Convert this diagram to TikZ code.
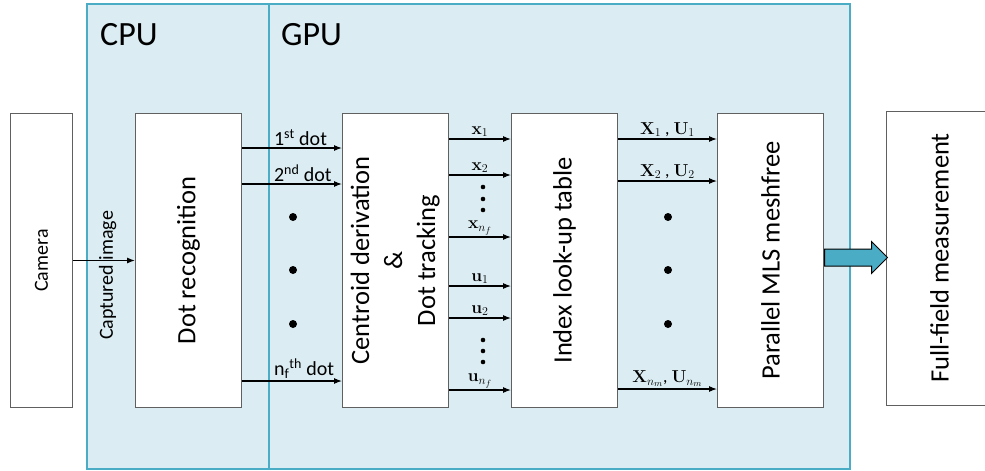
\documentclass[tikz,border=0pt]{standalone}
\usepackage[no-math]{fontspec}
\setmainfont{Carlito}
\usepackage{amsmath}
\usetikzlibrary{
    arrows.meta,
    positioning,
    shapes.arrows
}
\definecolor{gpuaqua}{RGB}{75,172,198}
\definecolor{gpulight}{RGB}{219,237,243}
\definecolor{stageline}{RGB}{96,96,96}

\begin{document}
\begin{tikzpicture}[
    x=1pt,
    y=-1pt,
    panel/.style={
        draw=gpuaqua,
        line width=2.7pt,
        fill=gpulight
    },
    stage/.style={
        draw=stageline,
        line width=1pt,
        fill=white,
        minimum width=106pt,
        minimum height=294pt,
        inner sep=0pt,
        font=\fontsize{26.5}{33}\selectfont
    },
    flowarrow/.style={
        -{Latex[length=8pt,width=6pt]},
        line width=1.1pt
    },
    dotlabel/.style={
        anchor=south west,
        inner sep=1.5pt,
        font=\fontsize{20}{20}\selectfont
    },
    veclabel/.style={
        above,
        inner sep=1.5pt,
        font=\fontsize{17.5}{17.5}\selectfont
    }
]
\useasboundingbox (0,0) rectangle (985,471);

% processor panels
\draw[panel] (269,4) rectangle (850,469);
\draw[panel] (87,4) rectangle (269,469);
\node[anchor=base west, inner sep=0pt, font=\fontsize{34}{34}\selectfont] (cputitle) at (100,45) {CPU};
\node[anchor=base west, inner sep=0pt, font=\fontsize{34}{34}\selectfont] (gputitle) at (281,45) {GPU};

\node[
    stage,
    minimum width=62pt,
    font=\fontsize{20}{24}\selectfont
] (camera) at (41.5,260.5) {\rotatebox{90}{Camera}};

\node[
    stage,
    right=62pt of camera
] (dotrec) {\rotatebox{90}{Dot recognition}};

\node[
    stage,
    right=100pt of dotrec
] (centroid) {\rotatebox{90}{\begin{tabular}{@{}c@{}}
    Centroid derivation\\
    \&\\
    Dot tracking
\end{tabular}}};

\node[
    stage,
    right=62pt of centroid
] (lookup) {\rotatebox{90}{Index look-up table}};

\node[
    stage,
    right=99pt of lookup
] (meshfree) {\rotatebox{90}{Parallel MLS meshfree}};

\node[
    stage,
    right=62pt of meshfree,
    yshift=2.5pt
] (fullfield) {\rotatebox{90}{Full-field measurement}};

\draw[flowarrow] (camera) -- (dotrec)
    node[pos=0.56, yshift=-15pt, rotate=90, font=\fontsize{20}{20}\selectfont] {Captured image};

% dot streams
\foreach \dy/\txt in {35/1\textsuperscript{st} dot, 71/2\textsuperscript{nd} dot, 268/n\textsubscript{f}\textsuperscript{th} dot}
    \draw[flowarrow] ([yshift=-\dy*1pt]dotrec.north east) -- ([yshift=-\dy*1pt]centroid.north west)
        node[dotlabel, pos=0.3] {\txt};

\foreach \dy/\txt in {26/{$\mathbf{x}_1$}, 62/{$\mathbf{x}_2$}, 124/{$\mathbf{x}_{n_f}$},
                      173/{$\mathbf{u}_1$}, 205/{$\mathbf{u}_2$}, 277/{$\mathbf{u}_{n_f}$}}
    \draw[flowarrow] ([yshift=-\dy*1pt]centroid.north east) -- ([yshift=-\dy*1pt]lookup.north west)
        node[veclabel, midway] {\txt};

\foreach \dy/\txt in {26/{$\mathbf{X}_1$ , $\mathbf{U}_1$}, 68/{$\mathbf{X}_2$ , $\mathbf{U}_2$},
                      276/{$\mathbf{X}_{n_m}$, $\mathbf{U}_{n_m}$}}
    \draw[flowarrow] ([yshift=-\dy*1pt]lookup.north east) -- ([yshift=-\dy*1pt]meshfree.north west)
        node[veclabel, midway] {\txt};

% ellipsis dots
\foreach \yy in {217,270,324} {
    \fill (293,\yy) circle[radius=4pt];
    \fill (668,\yy) circle[radius=4pt];
}
\foreach \yy in {187,199,210,340,351,362}
    \fill (483,\yy) circle[radius=2.3pt];

\node[
    single arrow,
    draw=black,
    fill=gpuaqua,
    line width=1pt,
    inner sep=8pt,
    minimum height=63pt,
    single arrow head extend=7.5pt,
    anchor=tail
] (toresult) at ([yshift=3pt]meshfree.east) {};

\end{tikzpicture}
\end{document}
